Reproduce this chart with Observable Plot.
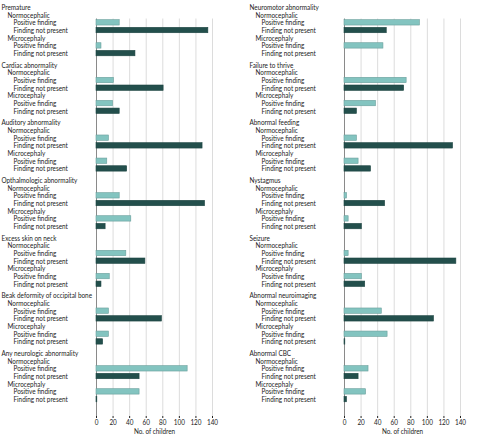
<!DOCTYPE html>
<html><head><meta charset="utf-8">
<script src="https://cdn.jsdelivr.net/npm/d3@7"></script>
<script src="https://cdn.jsdelivr.net/npm/@observablehq/plot@0.6"></script>
<style>
body{margin:0;background:#fff;}
#chart svg{font-family:Lato,"Liberation Sans",sans-serif;}
</style></head><body><div id="chart"></div>
<script>
// ---- data ----
const conditions = [
  "Premature", "Cardiac abnormality", "Auditory abnormality", "Opthalmologic abnormality",
  "Excess skin on neck", "Beak deformity of occipital bone", "Any neurologic abnormality",
  "Neuromotor abnormality", "Failure to thrive", "Abnormal feeding", "Nystagmus",
  "Seizure", "Abnormal neuroimaging", "Abnormal CBC"
];
const panelColumn = ["left","left","left","left","left","left","left",
                     "right","right","right","right","right","right","right"];
const normoPositive   = [28, 21, 15, 28, 36, 15, 110,  91, 75, 15, 3, 5, 45, 29];
const normoNotPresent = [135, 81, 128, 131, 59, 79, 52,  51, 72, 131, 49, 135, 108, 17];
const microPositive   = [6, 20, 13, 42, 16, 15, 52,  47, 38, 17, 5, 21, 52, 26];
const microNotPresent = [47, 28, 37, 11, 6, 8, 1,  0, 15, 32, 21, 25, 1, 3];
const groupLabels = ["Normocephalic", "Microcephaly"];
const findingLabels = ["Positive finding", "Finding not present"];
const xTicks = [0, 20, 40, 60, 80, 100, 120, 140];
const axisLabel = "No. of children";

// ---- styles ----
const fillColors = ["#83c4c0", "#234f4c"];
const strokeColors = ["#6a9f9c", "#1d4542"];
const textCondense = 0.85;

// ---- build rows ----
const PANEL_STEP = 7.5;
const rows = [];
conditions.forEach((c, i) => {
  const col = panelColumn[i];
  const base = (i % 7) * PANEL_STEP;
  rows.push({col, pos: base, label: c, level: 0});
  const vals = [[normoPositive[i], normoNotPresent[i]], [microPositive[i], microNotPresent[i]]];
  groupLabels.forEach((g, gi) => {
    const gpos = base + 1 + gi * 3;
    rows.push({col, pos: gpos, label: g, level: 1});
    findingLabels.forEach((f, fi) => {
      rows.push({col, pos: gpos + 1 + fi, label: f, level: 2, finding: f, fi, value: vals[gi][fi]});
    });
  });
});
const bars = rows.filter(d => d.level === 2);

const chart = Plot.plot({
  width: 478, height: 439,
  marginLeft: 95, marginRight: 18, marginTop: 18.5, marginBottom: 23,
  style: {fontSize: "7.5px", color: "#222", background: "#fff"},
  fx: {domain: ["left", "right"], paddingInner: 0.534, paddingOuter: 0, axis: null, label: null},
  x: {domain: [0, 140], ticks: xTicks, tickSize: 2, tickPadding: 1, label: null},
  y: {domain: [1.5, 53.2], reverse: true, axis: null},
  marks: [
    Plot.ruleX(xTicks.filter(t => t > 0), {stroke: "#dcdcdc", strokeWidth: 1}),
    Plot.ruleX([0], {stroke: "#8a8a8a", strokeWidth: 1}),
    Plot.rectX(bars, {
      fx: "col", x1: 0, x2: "value",
      y1: d => d.pos - 0.35, y2: d => d.pos + 0.35,
      fill: d => fillColors[d.fi], stroke: d => strokeColors[d.fi], strokeWidth: 0.6
    }),
    Plot.text(rows.filter(d => d.level === 0), {fx: "col", y: "pos", text: "label", frameAnchor: "left", dx: -95, textAnchor: "start", fill: "#222"}),
    Plot.text(rows.filter(d => d.level === 1), {fx: "col", y: "pos", text: "label", frameAnchor: "left", dx: -89, textAnchor: "start", fill: "#222"}),
    Plot.text(rows.filter(d => d.level === 2), {fx: "col", y: "pos", text: "label", frameAnchor: "left", dx: -83, textAnchor: "start", fill: "#222"}),
    Plot.text(["left", "right"], {fx: d => d, text: () => axisLabel, frameAnchor: "bottom", dy: 17, fill: "#222"})
  ]
});
document.getElementById("chart").appendChild(chart);
// condense glyphs horizontally to mimic the narrow typeface
chart.querySelectorAll("text").forEach(t => {
  const L = t.getComputedTextLength();
  if (L > 0) {
    t.setAttribute("textLength", (L * textCondense).toFixed(2));
    t.setAttribute("lengthAdjust", "spacingAndGlyphs");
  }
});
</script>
</body></html>
